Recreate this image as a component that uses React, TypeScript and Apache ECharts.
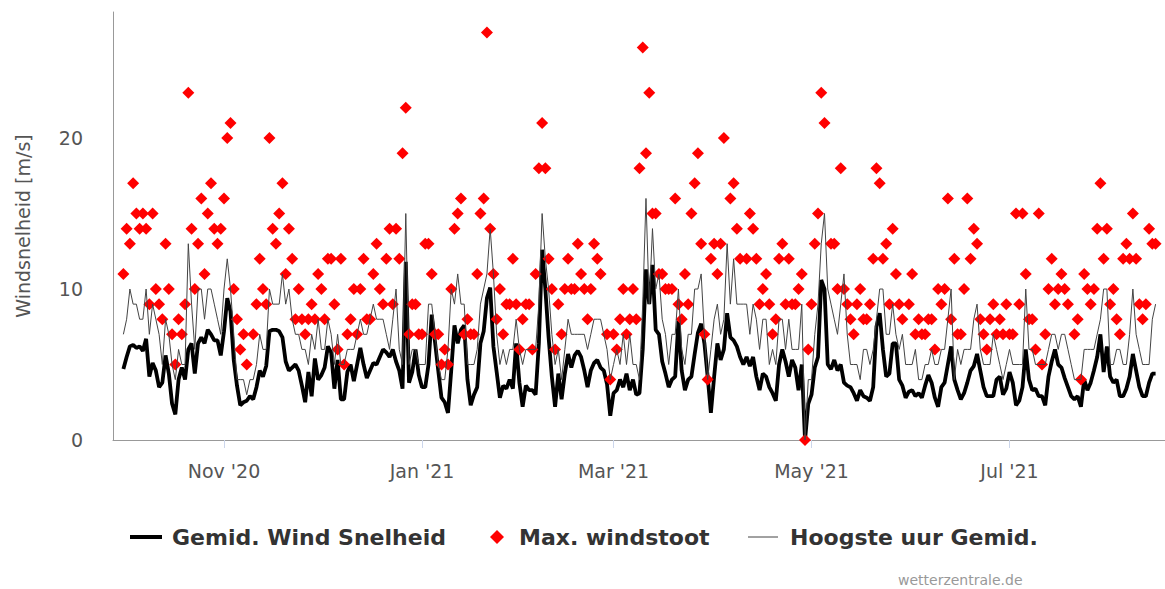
import React, { useEffect, useRef } from "react";
import * as echarts from "echarts";

const DAY = 86400000;
const START = Date.UTC(2020, 9, 1);

const tickDates = [
  Date.UTC(2020, 10, 1),
  Date.UTC(2021, 0, 1),
  Date.UTC(2021, 2, 1),
  Date.UTC(2021, 4, 1),
  Date.UTC(2021, 6, 1),
];
const tickLabels = ["Nov '20", "Jan '21", "Mar '21", "May '21", "Jul '21"];
const yTicks = [0, 10, 20];

const seriesNames = ["Gemid. Wind Snelheid", "Max. windstoot", "Hoogste uur Gemid."];

// daily values from 1 Oct 2020
const avgWind = [
  4.7, 5.5, 6.2, 6.3, 6.1, 6.2, 5.9, 6.7, 4.2, 5.1,
  4.6, 3.5, 3.8, 5.6, 4.4, 2.4, 1.7, 4.0, 4.8, 4.0,
  6.0, 6.4, 4.4, 6.4, 6.8, 6.4, 7.3, 7.0, 6.6, 6.6,
  5.6, 7.2, 9.4, 8.5, 5.3, 3.6, 2.3, 2.5, 2.6, 2.9,
  2.7, 3.5, 4.6, 4.2, 4.9, 7.2, 7.3, 7.3, 7.2, 6.8,
  5.2, 4.6, 4.8, 5.0, 4.6, 3.6, 2.5, 4.5, 2.9, 5.4,
  4.0, 4.3, 4.8, 6.2, 5.8, 3.4, 5.3, 2.7, 2.7, 4.5,
  5.0, 3.9, 5.0, 6.1, 5.0, 4.1, 4.6, 5.1, 5.0, 5.5,
  6.0, 5.8, 5.5, 6.0, 5.2, 4.6, 3.4, 11.8, 3.8, 4.5,
  6.0, 4.3, 3.5, 3.5, 5.0, 8.3, 6.5, 4.6, 2.8, 2.5,
  1.8, 4.6, 7.6, 6.4, 7.3, 7.6, 4.0, 2.3, 3.0, 3.5,
  6.4, 7.2, 9.4, 10.1, 6.2, 4.5, 2.8, 3.6, 3.4, 4.0,
  3.4, 6.4, 3.8, 2.2, 3.6, 3.3, 3.3, 3.0, 6.4, 12.6,
  10.0, 6.8, 4.2, 2.2, 4.4, 2.7, 4.4, 5.7, 4.8, 5.6,
  5.9, 5.5, 4.6, 3.5, 4.6, 5.1, 5.3, 4.8, 4.6, 3.7,
  1.6, 3.1, 3.3, 4.0, 3.5, 4.4, 3.3, 4.0, 3.0, 3.1,
  6.0, 11.3, 9.0, 11.6, 7.3, 7.0, 5.2, 4.4, 3.5, 4.0,
  4.2, 7.9, 4.6, 3.3, 4.0, 4.2, 5.7, 7.1, 7.7, 6.4,
  4.2, 1.8, 4.2, 6.4, 5.3, 6.0, 8.4, 6.8, 6.6, 6.2,
  5.5, 5.0, 5.5, 4.9, 5.5, 4.2, 3.3, 4.4, 4.2, 3.5,
  3.1, 2.6, 5.0, 6.0, 5.2, 4.2, 5.3, 4.8, 3.3, 5.0,
  0, 2.4, 3.0, 4.8, 5.5, 10.6, 10.0, 5.0, 4.7, 5.3,
  4.6, 5.0, 3.8, 3.6, 3.5, 3.1, 2.6, 3.3, 2.9, 2.8,
  2.6, 3.5, 7.5, 8.4, 6.0, 4.2, 4.4, 6.4, 6.4, 4.0,
  3.6, 2.8, 3.2, 3.3, 2.9, 3.1, 2.8, 3.6, 4.3, 3.8,
  2.8, 2.2, 3.5, 3.8, 5.0, 6.2, 4.0, 3.3, 2.7, 3.1,
  3.8, 4.6, 4.9, 5.7, 4.6, 3.5, 2.9, 2.9, 2.9, 4.0,
  4.2, 3.0, 3.4, 4.5, 3.8, 2.3, 2.6, 3.5, 6.0, 4.0,
  3.3, 3.4, 2.9, 2.9, 2.3, 4.2, 5.2, 6.0, 5.0, 4.8,
  4.1, 3.5, 2.9, 2.7, 2.9, 2.2, 4.0, 3.3, 3.8, 4.6,
  5.5, 7.0, 4.5, 6.2, 4.2, 3.8, 4.0, 2.9, 2.9, 3.4,
  4.2, 5.7, 4.6, 3.5, 2.9, 2.9, 3.8, 4.4, 4.4,
];

const maxGust = [
  11, 14, 13, 17, 15, 14, 15, 14, 9, 15,
  10, 9, 8, 13, 10, 7, 5, 8, 7, 9,
  23, 14, 10, 13, 16, 11, 15, 17, 14, 13,
  14, 16, 20, 21, 10, 8, 6, 7, 5, null,
  7, 9, 12, 10, 9, 20, 14, 13, 15, 17,
  11, 14, 12, 8, 10, 8, 7, 8, 9, 8,
  11, 10, 8, 12, 12, 9, 6, 12, 5, 7,
  8, 10, 7, 10, 12, 8, 8, 11, 13, 10,
  9, 12, 14, 9, 14, 12, 19, 22, 7, 9,
  9, 7, 7, 13, 13, 11, 7, 7, 5, 6,
  5, 10, 14, 15, 16, 7, 8, 7, 7, 11,
  15, 16, 27, 14, 11, 8, 10, 7, 9, 9,
  12, 9, 6, 8, 9, 9, 6, 11, 18, 21,
  18, 12, 10, 6, 9, 7, 10, 12, 10, 10,
  13, 11, 10, 8, 10, 13, 12, 11, null, 7,
  4, 7, 6, 8, 10, 7, 8, 10, 8, 18,
  26, 19, 23, 15, 15, 11, 11, 10, 10, 10,
  16, 9, 8, 11, 9, 15, 17, 19, 13, 7,
  4, 12, 13, 11, 13, 20, null, 16, 17, 14,
  12, null, 12, 15, 14, 12, 9, 10, 11, 9,
  7, 8, 12, 13, 9, 12, 9, 9, 10, 11,
  0, 6, 9, 13, 15, 23, 21, null, 13, 13,
  10, 18, 10, 9, 8, 7, 9, 10, 8, 8,
  9, 12, 18, 17, 12, 13, 9, 14, 11, 9,
  8, null, 9, 11, 7, 8, 7, 7, 8, 8,
  6, 10, 9, 10, 16, 8, 12, 7, 7, 10,
  16, 12, 14, 13, 8, 7, 6, 8, 9, 7,
  8, 7, 9, 7, 7, 15, 9, 15, 11, 8,
  8, 6, 15, 5, 7, 10, 12, 9, 10, 11,
  10, 9, null, 7, 8, 4, 11, 10, 9, 10,
  14, 17, 12, 14, 9, 10, 8, 7, 12, 13,
  12, 15, 12, 9, 8, 9, 14, 13, 13,
];

const maxHourAvg = [
  7, 8, 10, 9, 9, 8, 8, 10, 7, 9,
  8, 7, 5, 8, 7, 5, 4, 6, 5, 5,
  13, 9, 6, 10, 10, 8, 10, 10, 9, 8,
  7, 10, 12, 10, 7, 4, 4, 4, 3, 4,
  4, 5, 7, 6, 6, 10, 9, 9, 9, 11,
  9, 10, 8, 7, 7, 6, 6, 5, 7, 6,
  8, 6, 6, 8, 7, 5, 7, 5, 5, 6,
  6, 6, 7, 8, 7, 7, 8, 9, 8, 8,
  8, 7, 6, 8, 10, 6, 5, 15, 5, 6,
  6, 5, 5, 5, 9, 9, 7, 5, 4, 4,
  6, 10, 9, 11, 9, 9, 5, 5, 5, 6,
  9, 10, 11, 14, 11, 7, 5, 6, 5, 6,
  6, 8, 6, 5, 6, 6, 6, 6, 9, 15,
  12, 10, 7, 5, 6, 4, 6, 8, 7, 7,
  7, 7, 7, 6, 7, 8, 8, 8, 7, 6,
  4, 5, 6, 5, 7, 5, 7, 5, 5, 4,
  9, 16, 9, 14, 10, 11, 8, 7, 5, 7,
  7, 10, 6, 5, 7, 7, 10, 10, 11, 7,
  4, 6, 8, 9, 7, 8, 13, 9, 12, 9,
  9, 9, 9, 7, 9, 8, 6, 8, 8, 5,
  6, 5, 8, 8, 6, 8, 6, 6, 6, 9,
  0, 4, 4, 7, 9, 13, 15, 10, 9, 8,
  7, 9, 11, 7, 5, 5, 5, 4, 6, 6,
  5, 6, 8, 10, 10, 7, 7, 9, 7, 6,
  7, 5, 5, 5, 6, 4, 4, 5, 5, 6,
  5, 5, 6, 6, 8, 10, 4, 6, 5, 6,
  6, 6, 8, 9, 6, 5, 5, 5, 7, 6,
  5, 4, 5, 6, 5, 5, 5, 5, 10, 6,
  6, 5, 5, 5, 5, 6, 7, 7, 6, 7,
  7, 6, 5, 4, 4, 4, 6, 6, 6, 6,
  7, 8, 10, 10, 5, 5, 6, 6, 5, 5,
  7, 10, 7, 6, 5, 5, 5, 8, 9,
];

const FONT = "'DejaVu Sans', sans-serif";

export default function App() {
  const ref = useRef<HTMLDivElement>(null);

  useEffect(() => {
    if (!ref.current) return;
    const chart = echarts.init(ref.current, undefined, { renderer: "svg" });
    const toPairs = (arr: (number | null)[]) =>
      arr.map((v, i) => [START + i * DAY, v]);
    const gustPairs = maxGust
      .map((v, i) => [START + i * DAY, v])
      .filter((p) => p[1] !== null);

    const nov1 = tickDates[0];
    const xMin = nov1 - 34.2 * DAY;
    const xMax = nov1 + 289.9 * DAY;

    const legendY = 537;
    const legendFont = `bold 22px ${FONT}`;

    chart.setOption({
      animation: false,
      backgroundColor: "#ffffff",
      grid: { left: 113, top: 12, width: 1052, height: 428, containLabel: false },
      xAxis: {
        type: "value",
        min: xMin,
        max: xMax,
        axisLine: { show: true, lineStyle: { color: "#999999", width: 1 } },
        axisTick: {
          show: true,
          customValues: tickDates,
          length: 8,
          lineStyle: { color: "#ccd6eb", width: 1 },
        },
        axisLabel: {
          customValues: tickDates,
          formatter: (v: number) => {
            let best = 0;
            tickDates.forEach((t, i) => {
              if (Math.abs(t - v) < Math.abs(tickDates[best] - v)) best = i;
            });
            return tickLabels[best];
          },
          fontSize: 19,
          fontFamily: FONT,
          color: "#555555",
          margin: 21,
        },
        splitLine: { show: false },
      },
      yAxis: {
        type: "value",
        min: 0,
        max: 28.35,
        interval: 10,
        name: "Windsnelheid [m/s]",
        nameLocation: "middle",
        nameGap: 81,
        nameRotate: 90,
        nameTextStyle: { fontSize: 19, fontFamily: FONT, color: "#555555" },
        axisLine: { show: true, lineStyle: { color: "#999999", width: 1 } },
        axisTick: { show: false },
        splitLine: { show: false },
        axisLabel: {
          customValues: yTicks,
          fontSize: 19,
          fontFamily: FONT,
          color: "#555555",
          margin: 30,
        },
      },
      series: [
        {
          name: seriesNames[0],
          type: "line",
          data: toPairs(avgWind),
          showSymbol: false,
          symbol: "none",
          lineStyle: { color: "#000000", width: 3.8 },
          z: 2,
        },
        {
          name: seriesNames[1],
          type: "scatter",
          data: gustPairs,
          symbol: "diamond",
          symbolSize: 12,
          itemStyle: { color: "#ff0000", opacity: 1 },
          z: 3,
        },
        {
          name: seriesNames[2],
          type: "line",
          data: toPairs(maxHourAvg),
          showSymbol: false,
          symbol: "none",
          lineStyle: { color: "#444444", width: 1 },
          z: 4,
        },
      ],
      graphic: [
        {
          type: "line",
          shape: { x1: 130, y1: legendY, x2: 162, y2: legendY },
          style: { stroke: "#000000", lineWidth: 4 },
        },
        {
          type: "text",
          x: 172,
          y: legendY,
          style: { text: seriesNames[0], font: legendFont, fill: "#333333", verticalAlign: "middle" },
        },
        {
          type: "polygon",
          shape: {
            points: [
              [497, legendY - 7],
              [504, legendY],
              [497, legendY + 7],
              [490, legendY],
            ],
          },
          style: { fill: "#ff0000" },
        },
        {
          type: "text",
          x: 519,
          y: legendY,
          style: { text: seriesNames[1], font: legendFont, fill: "#333333", verticalAlign: "middle" },
        },
        {
          type: "line",
          shape: { x1: 748, y1: legendY, x2: 778, y2: legendY },
          style: { stroke: "#444444", lineWidth: 1 },
        },
        {
          type: "text",
          x: 790,
          y: legendY,
          style: { text: seriesNames[2], font: legendFont, fill: "#333333", verticalAlign: "middle" },
        },
        {
          type: "text",
          x: 898,
          y: 580,
          style: { text: "wetterzentrale.de", font: `14px ${FONT}`, fill: "#999999", verticalAlign: "middle" },
        },
      ],
    });
    return () => chart.dispose();
  }, []);

  return (
    <div
      ref={ref}
      style={{ position: "fixed", left: 0, top: 0, width: 1165, height: 589, background: "#fff" }}
    />
  );
}
